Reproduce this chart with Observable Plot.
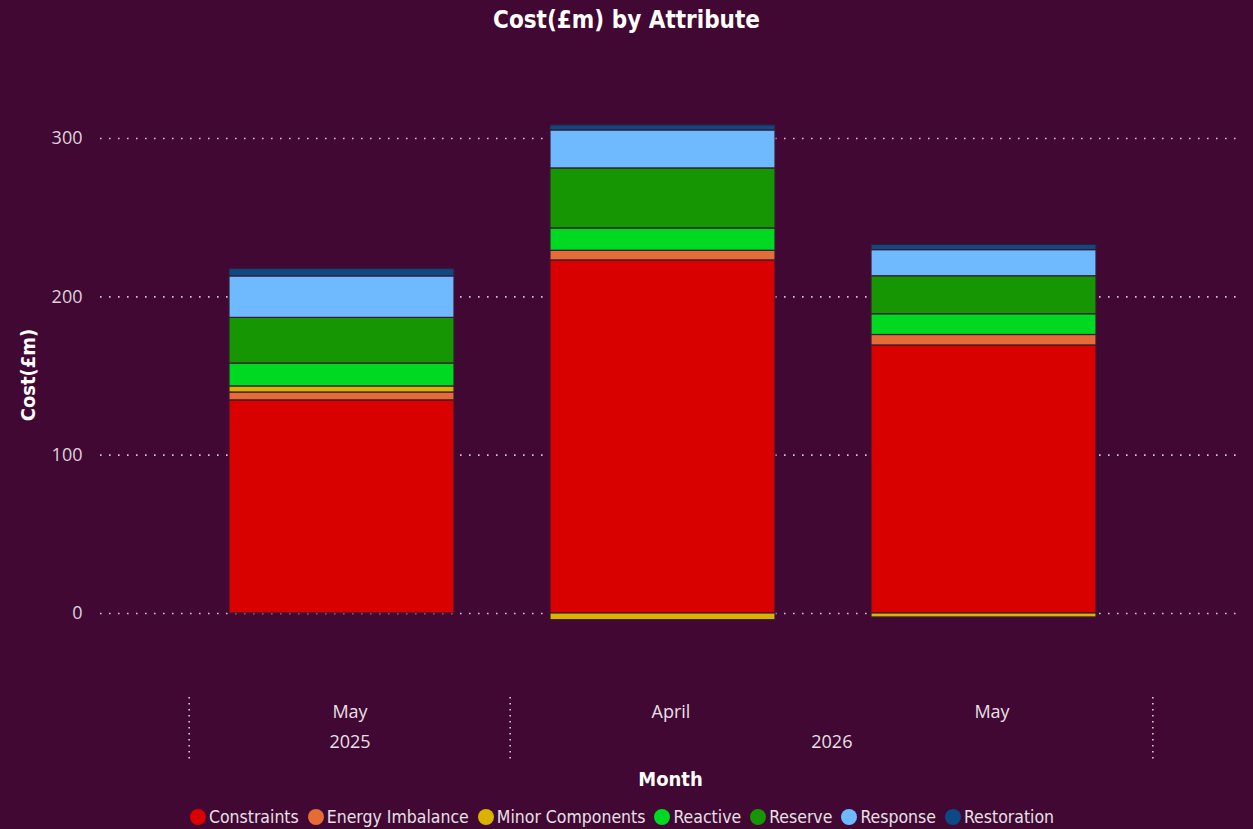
<!DOCTYPE html>
<html>
<head>
<meta charset="utf-8">
<script src="https://cdn.jsdelivr.net/npm/d3@7"></script>
<script src="https://cdn.jsdelivr.net/npm/@observablehq/plot@0.6"></script>
<style>
  html, body { margin: 0; padding: 0; background: #400832; width: 1253px; height: 829px; overflow: hidden; }
  body { position: relative; font-family: "Open Sans", sans-serif; }
  #title { position: absolute; left: 0; top: 4px; width: 1253px; text-align: center;
           font: bold 24px "DejaVu Sans Condensed", sans-serif; color: #fff; line-height: 32px; }
  #chart { position: absolute; left: 0; top: 40px; }
  #ytitle { position: absolute; left: 28px; top: 375px; transform: translate(-50%, -50%) rotate(-90deg);
            font: bold 20px "DejaVu Sans Condensed", sans-serif; color: #fff; white-space: nowrap; }
  #xtitle { position: absolute; left: 188px; width: 965px; top: 765px; text-align: center;
            font: bold 20px "DejaVu Sans Condensed", sans-serif; color: #fff; line-height: 28px; }
  #legend { position: absolute; left: 0; width: 1253px; top: 805px; display: flex; justify-content: center;
            font: 17.5px "DejaVu Sans Condensed", sans-serif; color: #e8e0e6; line-height: 24px; }
  .item { display: flex; align-items: center; margin-right: 9px; }
  .swatch { width: 16px; height: 16px; border-radius: 50%; margin-right: 3px; }
</style>
</head>
<body>
<div id="title">Cost(£m) by Attribute</div>
<div id="chart"></div>
<div id="ytitle">Cost(£m)</div>
<div id="xtitle">Month</div>
<div id="legend"></div>
<script>
// Months on the x axis (unique keys), with their display labels
const months = ["May 2025", "April 2026", "May 2026"];
const monthLabels = ["May", "April", "May"];
const years = ["2025", "2026"];
const yearStart = ["May 2025", "April 2026"];   // first month of each year group
const yearMonthCount = [1, 2];                  // months under each year

// Cost components (£m) per month
const attributes = ["Constraints", "Energy Imbalance", "Minor Components", "Reactive", "Reserve", "Response", "Restoration"];
const constraints     = [134.6, 223.0, 169.3];
const energyImbalance = [5.0, 6.1, 6.6];
const minorComponents = [3.8, -4.2, -2.5];
const reactive        = [14.5, 14.1, 13.1];
const reserve         = [28.8, 37.9, 24.0];
const response        = [26.2, 24.0, 16.5];
const restoration     = [4.7, 3.2, 3.3];

const colors = ["#d90000", "#e66c37", "#d9b300", "#00d921", "#169602", "#6eb9ff", "#0c4985"];
const yTicks = [0, 100, 200, 300];

const series = [constraints, energyImbalance, minorComponents, reactive, reserve, response, restoration];
const rows = [];
months.forEach((m, i) => attributes.forEach((a, k) => rows.push({month: m, attribute: a, cost: series[k][i]})));

const W = 1253, H = 720;
const xRange = [188, 1153];
const bw = (xRange[1] - xRange[0]) / months.length;

const labelStyle = {frameAnchor: "bottom", lineAnchor: "middle", fill: "#e8e0e6", fontSize: 18};
const sepStyle = {insetTop: 637, stroke: "#d8ccd4", strokeWidth: 1.6, strokeDasharray: "1.6,4.4"};

const chart = Plot.plot({
  width: W,
  height: H,
  marginLeft: 100,
  marginRight: 13,
  marginTop: 20,
  marginBottom: 0,
  style: {background: "transparent", fontFamily: "'Open Sans', sans-serif"},
  x: {type: "band", domain: months, range: xRange, padding: 0, axis: null},
  y: {domain: [0, 300], range: [573, 98], axis: null},
  color: {domain: attributes, range: colors},
  marks: [
    Plot.ruleY(yTicks, {y: d => d, stroke: "#f0e6ee", strokeWidth: 1.6, strokeDasharray: "1.6,7.4", strokeOpacity: 0.85}),
    Plot.text(yTicks, {y: d => d, frameAnchor: "left", dx: -18, textAnchor: "end", text: d => String(d),
                       fill: "#ddd3da", fontSize: 18}),
    Plot.barY(rows, Plot.stackY({
      x: "month", y: "cost", fill: "attribute",
      insetLeft: 40, insetRight: 56,
      stroke: "#3a1a33", strokeWidth: 1.2
    })),
    // category separators of the two-level month/year axis
    Plot.ruleX(yearStart, {x: d => d, dx: -bw / 2, ...sepStyle}),
    Plot.ruleX([months[months.length - 1]], {x: d => d, dx: bw / 2, ...sepStyle}),
    // month labels, then year labels centred under their months
    Plot.text(months, {x: d => d, text: (d, i) => monthLabels[i], dy: -48, ...labelStyle}),
    Plot.text([years[0]], {x: () => yearStart[0], text: d => d, dy: -18, dx: (yearMonthCount[0] - 1) * bw / 2, ...labelStyle}),
    Plot.text([years[1]], {x: () => yearStart[1], text: d => d, dy: -18, dx: (yearMonthCount[1] - 1) * bw / 2, ...labelStyle})
  ]
});
document.getElementById("chart").appendChild(chart);

// legend
const legend = document.getElementById("legend");
attributes.forEach((a, k) => {
  const item = document.createElement("div");
  item.className = "item";
  const sw = document.createElement("span");
  sw.className = "swatch";
  sw.style.background = colors[k];
  const label = document.createElement("span");
  label.textContent = a;
  item.appendChild(sw);
  item.appendChild(label);
  legend.appendChild(item);
});
</script>
</body>
</html>
